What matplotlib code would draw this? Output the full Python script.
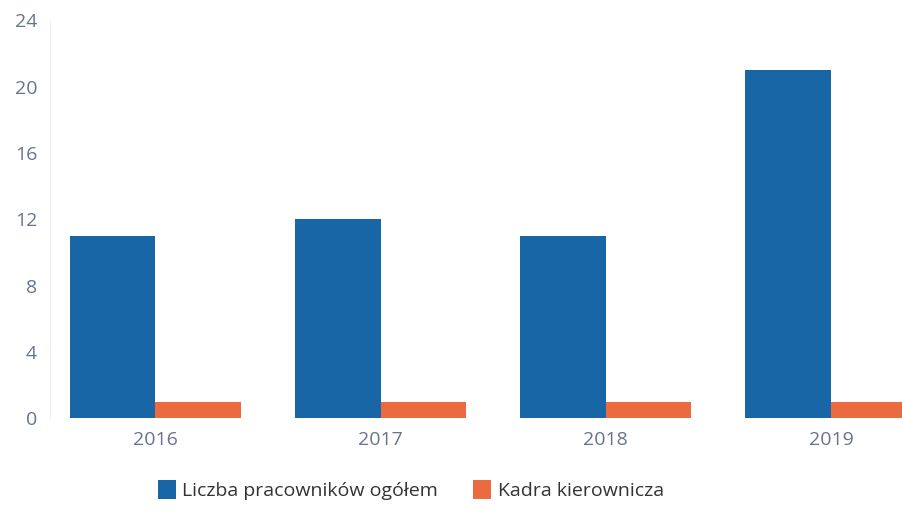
import matplotlib

matplotlib.use("Agg")
import matplotlib.pyplot as plt
import numpy as np

years = ["2016", "2017", "2018", "2019"]
ogolem = [11, 12, 11, 21]
kadra = [1, 1, 1, 1]
y_ticks = [0, 4, 8, 12, 16, 20, 24]

BLUE = "#1866a6"
ORANGE = "#ec6a40"
TEXT = "#66748f"

plt.rcParams["font.family"] = ["Open Sans", "DejaVu Sans"]

fig = plt.figure(figsize=(9.03, 5.17), dpi=100)
ax = fig.add_axes([0.055, 0.191, 0.945, 0.77])

x = np.arange(len(years))
width = 0.38
ax.bar(x - width / 2, ogolem, width, color=BLUE, label="Liczba pracowników ogółem")
ax.bar(x + width / 2, kadra, width, color=ORANGE, label="Kadra kierownicza")

ax.set_xlim(-0.47, 3.32)
ax.set_ylim(0, 24)
ax.set_yticks(y_ticks)
ax.set_xticks(x)
ax.set_xticklabels(years)
ax.tick_params(axis="y", length=0, pad=9, labelsize=14, labelcolor=TEXT)
ax.tick_params(axis="x", length=0, pad=9, labelsize=14, labelcolor=TEXT)

for side in ("top", "right", "bottom"):
    ax.spines[side].set_visible(False)
ax.spines["left"].set_color("#eeeff2")

fig.legend(
    loc="center",
    bbox_to_anchor=(0.455, 0.052),
    ncol=2,
    frameon=False,
    fontsize=14,
    handlelength=0.9,
    handleheight=1.1,
    handletextpad=0.35,
    columnspacing=1.8,
    labelcolor="#333333",
)

fig.savefig("out.png", dpi=100)
